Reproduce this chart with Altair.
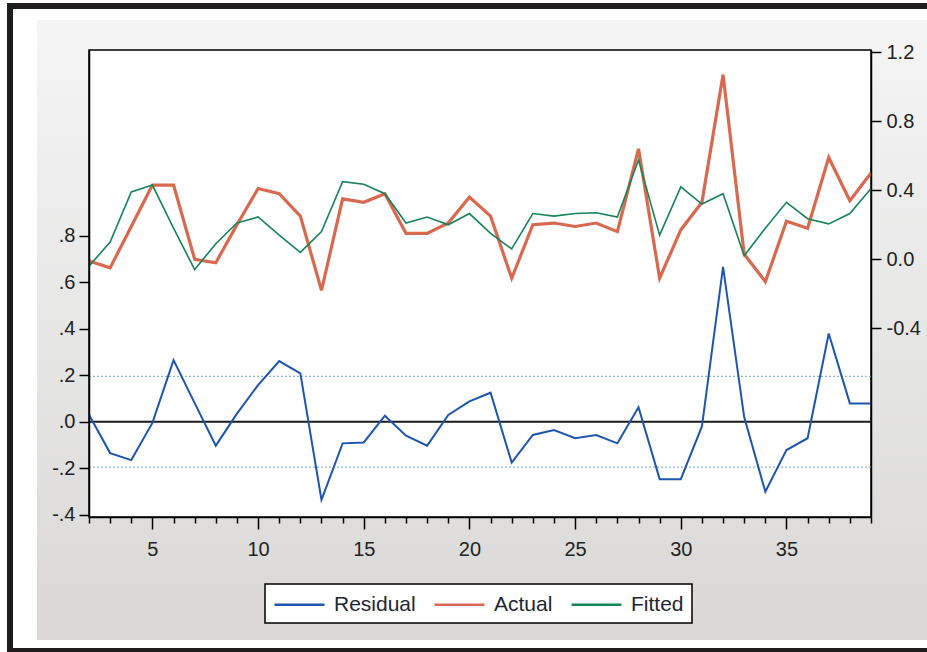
import altair as alt
import pandas as pd

obs = list(range(2, 40))
residual = [0.03, -0.135, -0.165, -0.005, 0.265, 0.08, -0.103, 0.035, 0.158, 0.261,
            0.208, -0.336, -0.093, -0.089, 0.026, -0.06, -0.103, 0.029, 0.088, 0.125,
            -0.176, -0.057, -0.036, -0.071, -0.057, -0.093, 0.062, -0.247, -0.247, -0.02,
            0.667, 0.02, -0.301, -0.122, -0.071, 0.38, 0.079, 0.079]
actual = [-0.01, -0.05, 0.19, 0.43, 0.43, 0.00, -0.02, 0.20, 0.41, 0.38,
          0.25, -0.18, 0.35, 0.33, 0.38, 0.15, 0.15, 0.21, 0.36, 0.25,
          -0.11, 0.20, 0.21, 0.19, 0.21, 0.16, 0.64, -0.11, 0.17, 0.33,
          1.07, 0.03, -0.13, 0.22, 0.18, 0.59, 0.34, 0.50]
fitted = [-0.04, 0.10, 0.39, 0.43, 0.18, -0.06, 0.09, 0.21, 0.245, 0.14,
          0.04, 0.16, 0.45, 0.435, 0.38, 0.21, 0.245, 0.20, 0.265, 0.15,
          0.06, 0.265, 0.25, 0.265, 0.27, 0.245, 0.575, 0.14, 0.42, 0.32,
          0.38, 0.02, 0.18, 0.33, 0.235, 0.205, 0.265, 0.41]
se_band = [-0.195, 0.195]
series_names = ["Residual", "Actual", "Fitted"]
series_colors = ["#1d56b0", "#d8694f", "#17845a"]
left_ticks = [-0.4, -0.2, 0.0, 0.2, 0.4, 0.6, 0.8]
right_ticks = [-0.4, 0.0, 0.4, 0.8, 1.2]

W, H = 782, 467
FONT = "Liberation Sans"

res_df = pd.DataFrame({"obs": obs, "value": residual, "series": "Residual"})
act_df = pd.DataFrame({"obs": obs, "value": actual, "series": "Actual"})
fit_df = pd.DataFrame({"obs": obs, "value": fitted, "series": "Fitted"})
se_df = pd.DataFrame({"value": se_band})
zero_df = pd.DataFrame({"value": [0.0]})
one = pd.DataFrame({"a": [0]})

x_enc = alt.X(
    "obs:Q",
    scale=alt.Scale(domain=[2, 39], nice=False, zero=False),
    axis=alt.Axis(
        values=obs,
        labelExpr="datum.value % 5 === 0 ? datum.label : ''",
        tickSize={"condition": {"test": "datum.value % 5 === 0", "value": 12}, "value": 6},
        title=None, grid=False, labelFontSize=20, labelFont=FONT, labelColor="#222",
        labelPadding=10, domainColor="black", tickColor="black", tickWidth=1.5,
        domainWidth=1.5, labelFlush=False, labelOverlap=False, zindex=1,
    ),
)

y_left = alt.Y(
    "value:Q",
    scale=alt.Scale(domain=[-0.41, 1.6], nice=False, zero=False),
    axis=alt.Axis(
        orient="left", values=left_ticks,
        labelExpr="(datum.value < 0 ? '-' : '') + '.' + toString(round(abs(datum.value) * 10))",
        tickSize=10, labelPadding=4, title=None, grid=False, labelFontSize=20,
        labelFont=FONT, labelColor="#222", domainColor="black", tickColor="black",
        tickWidth=1.5, domainWidth=1.5, zindex=1,
    ),
)

y_right = alt.Y(
    "value:Q",
    scale=alt.Scale(domain=[-1.494, 1.213], nice=False, zero=False),
    axis=alt.Axis(
        orient="right", values=right_ticks,
        labelExpr="(datum.value < 0 ? '-' : '') + format(abs(datum.value), '.1f')",
        tickSize=10, labelPadding=5, title=None, grid=False, labelFontSize=20,
        labelFont=FONT, labelColor="#222", domainColor="black", tickColor="black",
        tickWidth=1.5, domainWidth=1.5, zindex=1,
    ),
)

color_enc = alt.Color(
    "series:N",
    scale=alt.Scale(domain=series_names, range=series_colors),
    legend=alt.Legend(
        orient="none", legendX=176, legendY=520, direction="horizontal", title=None,
        symbolType="stroke", symbolSize=2500, symbolStrokeWidth=2.5,
        labelFontSize=21, labelFont=FONT, labelColor="#1e2733",
        padding=8, columnPadding=13, labelOffset=8, zindex=1,
    ),
)

frame_black = alt.Chart(one).mark_rect(color="#1e1c1c").encode(
    x=alt.value(-82), x2=alt.value(900), y=alt.value(-47), y2=alt.value(620))
frame_white = alt.Chart(one).mark_rect(color="white").encode(
    x=alt.value(-76), x2=alt.value(900), y=alt.value(-41), y2=alt.value(598))
gray = alt.Chart(one).mark_rect(
    color={"gradient": "linear", "x1": 0, "y1": 0, "x2": 0, "y2": 1,
           "stops": [{"offset": 0, "color": "#f5f5f5"}, {"offset": 1, "color": "#d9d8d7"}]}
).encode(x=alt.value(-52), x2=alt.value(900), y=alt.value(-30), y2=alt.value(590))
plot_bg = alt.Chart(one).mark_rect(fill="white", stroke="black", strokeWidth=1.5).encode(
    x=alt.value(0), x2=alt.value(W), y=alt.value(0), y2=alt.value(H))
legend_box = alt.Chart(one).mark_rect(fill="white", stroke="black", strokeWidth=1.5).encode(
    x=alt.value(176), x2=alt.value(603), y=alt.value(534), y2=alt.value(573))

se_rules = alt.Chart(se_df).mark_rule(color="#8fb8d6", strokeDash=[2, 2], strokeWidth=1.2).encode(y=y_left)
zero_rule = alt.Chart(zero_df).mark_rule(color="#1a1a1a", strokeWidth=2).encode(y=y_left)
res_line = alt.Chart(res_df).mark_line(strokeWidth=2).encode(x=x_enc, y=y_left, color=color_enc)
left_group = alt.layer(se_rules, zero_rule, res_line)

act_line = alt.Chart(act_df).mark_line(strokeWidth=3.2).encode(x=x_enc, y=y_right, color=color_enc)
fit_line = alt.Chart(fit_df).mark_line(strokeWidth=1.6).encode(x=x_enc, y=y_right, color=color_enc)
right_group = alt.layer(act_line, fit_line)

chart = alt.layer(
    frame_black, frame_white, gray, plot_bg, legend_box, left_group, right_group
).resolve_scale(y="independent").properties(
    width=W, height=H,
    autosize=alt.AutoSizeParams(type="none"),
    padding={"left": 89, "top": 50, "right": 56, "bottom": 135},
).configure_view(stroke=None)

chart.save("out.html", embed_options={"renderer": "svg", "actions": False})
